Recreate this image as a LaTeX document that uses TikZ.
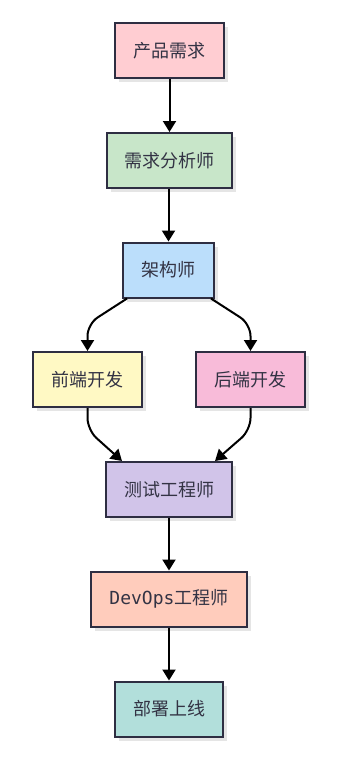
\documentclass[tikz,border=0pt]{standalone}
\usepackage{fontspec}
\newfontfamily\cjk{Noto Sans CJK SC}
\newfontfamily\codefont{DejaVu Sans Mono}
\usetikzlibrary{arrows.meta,shadows}
\definecolor{ReqPink}{HTML}{FFCDD2}
\definecolor{AnalystGreen}{HTML}{C8E6C9}
\definecolor{ArchBlue}{HTML}{BBDEFB}
\definecolor{FrontYellow}{HTML}{FFF9C4}
\definecolor{BackPink}{HTML}{F8BBD9}
\definecolor{TestPurple}{HTML}{D1C4E9}
\definecolor{OpsOrange}{HTML}{FFCCBC}
\definecolor{DeployTeal}{HTML}{B2DFDB}
\definecolor{BoxEdge}{HTML}{2E2E42}
\definecolor{Ink}{HTML}{333344}

\begin{document}
\begin{tikzpicture}[x=1pt, y=-1pt, >={Triangle[length=11pt,width=13pt]},
  stepbox/.style={draw=BoxEdge, line width=2pt, minimum height=55pt, inner sep=2pt,
    text=Ink, font=\cjk\fontsize{18}{22}\selectfont,
    drop shadow={shadow xshift=4pt, shadow yshift=-4pt, fill=black!10, opacity=1}},
  flow/.style={->, line width=2pt, rounded corners=12pt}]
  \useasboundingbox (0,0) rectangle (364,763);

  % The chain of roles, top to bottom.
  \node[stepbox, fill=ReqPink, minimum width=109pt] (req) at (169.5,50.5) {产品需求};
  \node[stepbox, fill=AnalystGreen, minimum width=125pt] (analyst) at (169.5,160.5) {需求分析师};
  \node[stepbox, fill=ArchBlue, minimum width=91pt] (arch) at (168.5,270) {架构师};
  \node[stepbox, fill=FrontYellow, minimum width=109pt] (fe) at (87.5,379.5) {前端开发};
  \node[stepbox, fill=BackPink, minimum width=109pt] (be) at (250.5,379.5) {后端开发};
  \node[stepbox, fill=TestPurple, minimum width=126pt] (qa) at (169,489.5) {测试工程师};
  \node[stepbox, fill=OpsOrange, minimum width=156pt] (devops) at (169,599)
    {{\codefont DevOps}工程师};
  \node[stepbox, fill=DeployTeal, minimum width=108pt] (deploy) at (169,709) {部署上线};

  % Straight hand-overs.
  \draw[flow] (req.south) -- (req.south |- analyst.north);
  \draw[flow] (analyst.south -| arch.north) -- (arch.north);

  % Split into front end and back end.
  \draw[flow] ([xshift=5pt]arch.south west) -- ([yshift=27pt]fe.north) -- (fe.north);
  \draw[flow] ([xshift=-4pt]arch.south east) -- ([yshift=27pt]be.north) -- (be.north);

  % Merge into testing.
  \draw[flow] (fe.south) -- ([yshift=-22pt]fe.south) -- ([xshift=17pt]qa.north west);
  \draw[flow] (be.south) -- ([yshift=-22pt]be.south) -- ([xshift=-18pt]qa.north east);

  \draw[flow] (qa.south -| devops.north) -- (devops.north);
  \draw[flow] (devops.south) -- (devops.south |- deploy.north);
\end{tikzpicture}
\end{document}
